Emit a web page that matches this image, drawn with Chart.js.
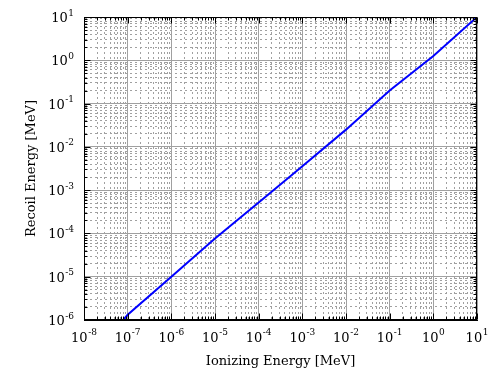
<!DOCTYPE html>
<html>
<head>
<meta charset="utf-8">
<script src="https://cdn.jsdelivr.net/npm/chart.js@4/dist/chart.umd.min.js"></script>
<style>
  body { margin: 0; background: #fff; }
</style>
</head>
<body>
<canvas id="c" width="500" height="375"></canvas>
<script>
// data (MeV)
var ionizingEnergy = [7.9e-8, 1e-7, 1e-6, 1e-5, 1e-4, 1e-3, 1e-2, 1e-1, 1, 10];
var recoilEnergy   = [1e-6, 1.32e-6, 1.0e-5, 7.6e-5, 5.2e-4, 3.55e-3, 2.5e-2, 0.2, 1.26, 10];

// decade ticks, labels are 10^exp
var xTickValues = [1e-8, 1e-7, 1e-6, 1e-5, 1e-4, 1e-3, 1e-2, 1e-1, 1e0, 1e1];
var xTickExp    = ['-8', '-7', '-6', '-5', '-4', '-3', '-2', '-1', '0', '1'];
var yTickValues = [1e-6, 1e-5, 1e-4, 1e-3, 1e-2, 1e-1, 1e0, 1e1];
var yTickExp    = ['-6', '-5', '-4', '-3', '-2', '-1', '0', '1'];

// majors + minors (2..9) for each decade
function logTicks(decades) {
    var out = [];
    for (var i = 0; i < decades.length; i++) {
        out.push({ value: decades[i], major: true });
        if (i < decades.length - 1) {
            for (var m = 2; m <= 9; m++) out.push({ value: m * decades[i], major: false });
        }
    }
    return out;
}

var points = ionizingEnergy.map(function(x, i) { return { x: x, y: recoilEnergy[i] }; });

var gridColor = '#a0a0a0';
var gridDash = function(ctx) { return (ctx.tick && !ctx.tick.major) ? [2, 3] : []; };

var baseFont = '13px "DejaVu Serif"';
var expFont = '9px "DejaVu Serif"';

// draw "10" with a raised exponent
function drawPow(c, exp, x, baseline, align) {
    c.font = baseFont;
    var w1 = c.measureText('10').width;
    c.font = expFont;
    var w2 = c.measureText(exp).width;
    var total = w1 + w2 + 0.5;
    var start = align === 'right' ? x - total : x - total / 2;
    c.textAlign = 'left';
    c.textBaseline = 'alphabetic';
    c.font = baseFont;
    c.fillText('10', start, baseline);
    c.font = expFont;
    c.fillText(exp, start + w1 + 0.5, baseline - 6.5);
}

// frame, inward tick marks and tick labels like gnuplot
var frame = {
    id: 'frame',
    afterDatasetsDraw: function(chart) {
        var c = chart.ctx, a = chart.chartArea;
        var xs = chart.scales.x, ys = chart.scales.y;
        var l = Math.round(a.left) + 0.5, r = Math.round(a.right) - 0.5;
        var t = Math.round(a.top) + 0.5, b = Math.round(a.bottom) - 0.5;
        c.save();
        c.strokeStyle = '#000';
        c.lineWidth = 1;
        c.beginPath();
        xs.ticks.forEach(function(tk) {
            var px = Math.round(xs.getPixelForValue(tk.value)) + 0.5;
            var len = tk.major ? 6 : 3;
            c.moveTo(px, b); c.lineTo(px, b - len);
            c.moveTo(px, t); c.lineTo(px, t + len);
        });
        ys.ticks.forEach(function(tk) {
            var py = Math.round(ys.getPixelForValue(tk.value)) + 0.5;
            var len = tk.major ? 6 : 3;
            c.moveTo(l, py); c.lineTo(l + len, py);
            c.moveTo(r, py); c.lineTo(r - len, py);
        });
        c.stroke();
        c.strokeRect(l, t, r - l, b - t);

        c.fillStyle = '#000';
        xTickValues.forEach(function(v, i) {
            drawPow(c, xTickExp[i], xs.getPixelForValue(v), a.bottom + 21.5, 'center');
        });
        yTickValues.forEach(function(v, i) {
            drawPow(c, yTickExp[i], a.left - 10, ys.getPixelForValue(v) + 5, 'right');
        });
        c.restore();
    }
};

Chart.defaults.font.family = 'DejaVu Serif';
Chart.defaults.font.size = 13;
Chart.defaults.color = '#000';

var ctx = document.getElementById('c').getContext('2d');
var chart = new Chart(ctx, {
    type: 'line',
    data: {
        datasets: [{
            data: points,
            borderColor: '#0000ff',
            borderWidth: 2,
            pointRadius: 0,
            fill: false,
            tension: 0
        }]
    },
    options: {
        responsive: false,
        animation: false,
        layout: { padding: { top: 17, right: 23, left: 0, bottom: 0 } },
        plugins: {
            legend: { display: false },
            tooltip: { enabled: false }
        },
        scales: {
            x: {
                type: 'logarithmic',
                min: 1e-8,
                max: 10,
                afterBuildTicks: function(scale) { scale.ticks = logTicks(xTickValues); },
                afterFit: function(scale) { scale.height = 55; },
                ticks: { display: false, autoSkip: false },
                grid: { color: gridColor, lineWidth: 1, drawTicks: false },
                border: { display: true, color: '#000', width: 1, dash: gridDash },
                title: {
                    display: true,
                    text: 'Ionizing Energy [MeV]',
                    padding: { top: 0, bottom: 6 }
                }
            },
            y: {
                type: 'logarithmic',
                min: 1e-6,
                max: 10,
                afterBuildTicks: function(scale) { scale.ticks = logTicks(yTickValues); },
                afterFit: function(scale) { scale.width = 84; },
                ticks: { display: false, autoSkip: false },
                grid: { color: gridColor, lineWidth: 1, drawTicks: false },
                border: { display: true, color: '#000', width: 1, dash: gridDash },
                title: {
                    display: true,
                    text: 'Recoil Energy [MeV]',
                    padding: { top: 24, bottom: 0 }
                }
            }
        }
    },
    plugins: [frame]
});
</script>
</body>
</html>
